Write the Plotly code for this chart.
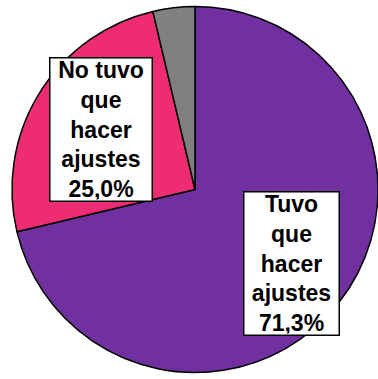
import plotly.graph_objects as go

# Survey answers and their shares (percent)
labels = ["Tuvo que hacer ajustes", "No tuvo que hacer ajustes", "Otro"]
label_lines = [["Tuvo", "que", "hacer", "ajustes"], ["No tuvo", "que", "hacer", "ajustes"], []]
values = [71.3, 25.0, 3.7]
colors = ["#7030A0", "#EE2C72", "#808080"]

W, H = 378, 379

fig = go.Figure(
    go.Pie(
        labels=labels,
        values=values,
        sort=False,
        direction="clockwise",
        rotation=0,
        marker=dict(colors=colors, line=dict(color="#000000", width=1.5)),
        textinfo="none",
        hoverinfo="label+percent",
        showlegend=False,
        domain=dict(x=[12 / W, 1.0], y=[5 / H, 374 / H]),
    )
)


def fmt_pct(v):
    return f"{v:.1f}".replace(".", ",") + "%"


# Boxed callouts placed over the two main slices
callouts = [(1, 101 / W, 1 - 129.5 / H, 99), (0, 291 / W, 1 - 263.5 / H, 92)]
for idx, xp, yp, bw in callouts:
    txt = "<br>".join(label_lines[idx] + [fmt_pct(values[idx])])
    fig.add_annotation(
        x=xp, y=yp, xref="paper", yref="paper",
        xanchor="center", yanchor="middle",
        text=txt, showarrow=False, align="center",
        font=dict(family="Liberation Sans, Arial, sans-serif", size=23, color="#000000", weight="bold"),
        bgcolor="#FFFFFF", bordercolor="#000000", borderwidth=1.5, borderpad=1,
        width=bw, height=140,
    )

fig.update_layout(
    width=W, height=H,
    margin=dict(l=0, r=0, t=0, b=0),
    paper_bgcolor="#FFFFFF",
    plot_bgcolor="#FFFFFF",
)

fig.write_html("out.html")
